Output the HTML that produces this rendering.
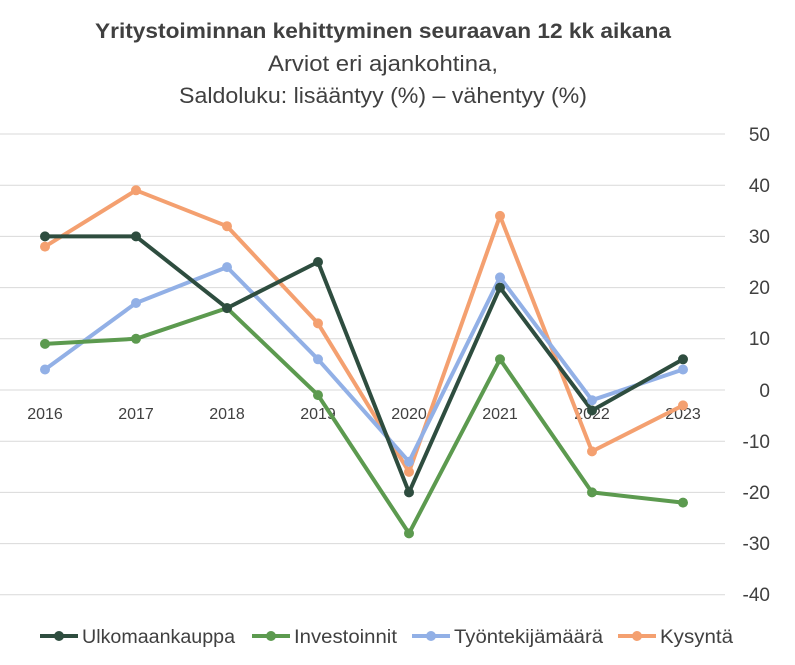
<!DOCTYPE html>
<html><head><meta charset="utf-8"><style>
body{margin:0;background:#fff;}
svg{display:block;font-family:"Liberation Sans",sans-serif;}
</style></head><body>
<svg width="795" height="665" viewBox="0 0 795 665">
<text x="383" y="38" text-anchor="middle" font-size="21" font-weight="bold" fill="#404040" textLength="576" lengthAdjust="spacingAndGlyphs">Yritystoiminnan kehittyminen seuraavan 12 kk aikana</text>
<text x="383" y="71" text-anchor="middle" font-size="22" fill="#404040" textLength="230" lengthAdjust="spacingAndGlyphs">Arviot eri ajankohtina,</text>
<text x="383" y="103" text-anchor="middle" font-size="22" fill="#404040" textLength="408" lengthAdjust="spacingAndGlyphs">Saldoluku: lisääntyy (%) – vähentyy (%)</text>
<g stroke="#d9d9d9" stroke-width="1">
<line x1="0" x2="725" y1="134" y2="134"/><line x1="0" x2="725" y1="185.2" y2="185.2"/><line x1="0" x2="725" y1="236.4" y2="236.4"/><line x1="0" x2="725" y1="287.6" y2="287.6"/><line x1="0" x2="725" y1="338.8" y2="338.8"/><line x1="0" x2="725" y1="390" y2="390"/><line x1="0" x2="725" y1="441.2" y2="441.2"/><line x1="0" x2="725" y1="492.4" y2="492.4"/><line x1="0" x2="725" y1="543.6" y2="543.6"/><line x1="0" x2="725" y1="594.8" y2="594.8"/>
</g>
<g font-size="19" fill="#404040" text-anchor="end">
<text x="770" y="141">50</text><text x="770" y="192">40</text><text x="770" y="243">30</text><text x="770" y="294">20</text><text x="770" y="345">10</text><text x="770" y="397">0</text><text x="770" y="448">-10</text><text x="770" y="499">-20</text><text x="770" y="550">-30</text><text x="770" y="601">-40</text>
</g>
<g font-size="16" fill="#404040" text-anchor="middle">
<text x="45" y="419">2016</text><text x="136" y="419">2017</text><text x="227" y="419">2018</text><text x="318" y="419">2019</text><text x="409" y="419">2020</text><text x="500" y="419">2021</text><text x="592" y="419">2022</text><text x="683" y="419">2023</text>
</g>
<g fill="none" stroke-width="4" stroke-linejoin="round">
<polyline stroke="#f4a070" points="45,246.6 136,190.3 227,226.2 318,323.4 409,471.9 500,215.9 592,451.4 683,405.4"/>
<polyline stroke="#92b0e6" points="45,369.5 136,303 227,267.1 318,359.3 409,461.7 500,277.4 592,400.2 683,369.5"/>
<polyline stroke="#5c9a4f" points="45,343.9 136,338.8 227,308.1 318,395.1 409,533.4 500,359.3 592,492.4 683,502.6"/>
<polyline stroke="#2e4d3f" points="45,236.4 136,236.4 227,308.1 318,262 409,492.4 500,287.6 592,410.5 683,359.3"/>
</g>
<g fill="#f4a070"><circle cx="45" cy="246.6" r="5"/><circle cx="136" cy="190.3" r="5"/><circle cx="227" cy="226.2" r="5"/><circle cx="318" cy="323.4" r="5"/><circle cx="409" cy="471.9" r="5"/><circle cx="500" cy="215.9" r="5"/><circle cx="592" cy="451.4" r="5"/><circle cx="683" cy="405.4" r="5"/></g>
<g fill="#92b0e6"><circle cx="45" cy="369.5" r="5"/><circle cx="136" cy="303" r="5"/><circle cx="227" cy="267.1" r="5"/><circle cx="318" cy="359.3" r="5"/><circle cx="409" cy="461.7" r="5"/><circle cx="500" cy="277.4" r="5"/><circle cx="592" cy="400.2" r="5"/><circle cx="683" cy="369.5" r="5"/></g>
<g fill="#5c9a4f"><circle cx="45" cy="343.9" r="5"/><circle cx="136" cy="338.8" r="5"/><circle cx="227" cy="308.1" r="5"/><circle cx="318" cy="395.1" r="5"/><circle cx="409" cy="533.4" r="5"/><circle cx="500" cy="359.3" r="5"/><circle cx="592" cy="492.4" r="5"/><circle cx="683" cy="502.6" r="5"/></g>
<g fill="#2e4d3f"><circle cx="45" cy="236.4" r="5"/><circle cx="136" cy="236.4" r="5"/><circle cx="227" cy="308.1" r="5"/><circle cx="318" cy="262" r="5"/><circle cx="409" cy="492.4" r="5"/><circle cx="500" cy="287.6" r="5"/><circle cx="592" cy="410.5" r="5"/><circle cx="683" cy="359.3" r="5"/></g>
<g font-size="19" fill="#404040">
<line x1="40" x2="78" y1="636" y2="636" stroke="#2e4d3f" stroke-width="4"/><circle cx="59" cy="636" r="5" fill="#2e4d3f"/><text x="82" y="643" textLength="153" lengthAdjust="spacingAndGlyphs">Ulkomaankauppa</text>
<line x1="252" x2="290" y1="636" y2="636" stroke="#5c9a4f" stroke-width="4"/><circle cx="271" cy="636" r="5" fill="#5c9a4f"/><text x="294" y="643" textLength="103" lengthAdjust="spacingAndGlyphs">Investoinnit</text>
<line x1="412" x2="450" y1="636" y2="636" stroke="#92b0e6" stroke-width="4"/><circle cx="431" cy="636" r="5" fill="#92b0e6"/><text x="454" y="643" textLength="149" lengthAdjust="spacingAndGlyphs">Työntekijämäärä</text>
<line x1="618" x2="656" y1="636" y2="636" stroke="#f4a070" stroke-width="4"/><circle cx="637" cy="636" r="5" fill="#f4a070"/><text x="660" y="643" textLength="73" lengthAdjust="spacingAndGlyphs">Kysyntä</text>
</g>
</svg>
</body></html>
